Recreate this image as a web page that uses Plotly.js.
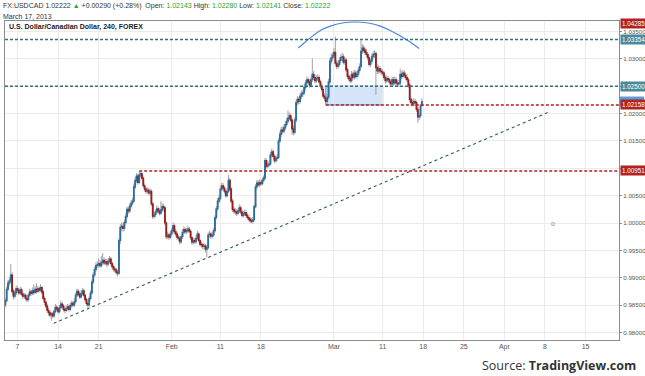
<!DOCTYPE html>
<html>
<head>
<meta charset="utf-8">
<script src="https://cdn.plot.ly/plotly-3.0.1.min.js"></script>
<style>html,body{margin:0;padding:0;background:#fff;}#chart{width:645px;height:376px;}</style>
</head>
<body>
<div id="chart"></div>
<script>
// ---- 240-minute USD/CAD bars, Jan 3 12:00 .. Mar 15 20:00 (2013) ----
const firstOpen = 0.9850;
const closes = [
  0.9858,0.9879,0.9890,
  0.9894,0.9905,0.9875,0.9866,0.9872,0.9880,
  0.9877,0.9872,0.9878,0.9870,0.9866,0.9868,
  0.9862,0.9860,0.9868,0.9874,0.9871,0.9876,
  0.9873,0.9879,0.9875,0.9880,0.9877,0.9882,
  0.9874,0.9862,0.9855,0.9848,0.9840,0.9836,
  0.9832,0.9834,0.9830,0.9838,0.9846,0.9843,
  0.9838,0.9845,0.9852,0.9848,0.9842,0.9840,
  0.9844,0.9847,0.9842,0.9849,0.9853,0.9850,
  0.9856,0.9868,0.9875,0.9870,0.9865,0.9871,
  0.9876,0.9868,0.9860,0.9853,0.9850,0.9862,
  0.9872,0.9892,0.9905,0.9915,0.9922,0.9924,
  0.9926,0.9922,0.9928,0.9932,0.9927,0.9929,
  0.9925,0.9930,0.9934,0.9926,0.9920,0.9916,
  0.9914,0.9910,0.9908,0.9968,0.9992,0.9994,
  0.9990,1.0001,1.0012,1.0025,1.0022,1.0031,
  1.0036,1.0040,1.0066,1.0078,1.0086,1.0074,
  1.0088,1.0090,1.0082,1.0068,1.0062,1.0058,
  1.0060,1.0055,1.0058,1.0035,1.0012,1.0015,
  1.0020,1.0026,1.0022,1.0018,1.0024,1.0030,
  1.0028,1.0000,0.9975,0.9978,0.9974,0.9980,
  0.9986,0.9995,0.9984,0.9980,0.9974,0.9972,
  0.9966,0.9975,0.9983,0.9988,0.9984,0.9986,
  0.9989,0.9985,0.9973,0.9965,0.9968,0.9966,
  0.9972,0.9980,0.9968,0.9961,0.9960,0.9957,
  0.9958,0.9952,0.9955,0.9978,0.9980,0.9976,
  0.9978,0.9986,1.0010,1.0026,1.0040,1.0045,
  1.0062,1.0068,1.0064,1.0058,1.0050,1.0058,
  1.0078,1.0062,1.0040,1.0025,1.0022,1.0020,
  1.0018,1.0022,1.0028,1.0020,1.0014,1.0017,
  1.0019,1.0014,1.0010,1.0007,1.0004,1.0003,
  1.0006,1.0030,1.0066,1.0073,1.0070,1.0074,
  1.0072,1.0078,1.0082,1.0114,1.0104,1.0106,
  1.0108,1.0124,1.0130,1.0122,1.0114,1.0118,
  1.0120,1.0150,1.0162,1.0170,1.0168,1.0174,
  1.0180,1.0186,1.0192,1.0196,1.0188,1.0172,
  1.0166,1.0188,1.0220,1.0226,1.0222,1.0232,
  1.0236,1.0238,1.0248,1.0256,1.0262,1.0258,
  1.0252,1.0262,1.0272,1.0266,1.0260,1.0264,
  1.0266,1.0258,1.0250,1.0244,1.0232,1.0228,
  1.0222,1.0230,1.0258,1.0296,1.0302,1.0306,
  1.0312,1.0292,1.0286,1.0290,1.0297,1.0302,
  1.0304,1.0294,1.0298,1.0280,1.0268,1.0264,
  1.0260,1.0272,1.0266,1.0274,1.0268,1.0272,
  1.0279,1.0286,1.0314,1.0320,1.0316,1.0312,
  1.0308,1.0302,1.0290,1.0296,1.0304,1.0308,
  1.0310,1.0284,1.0278,1.0282,1.0278,1.0276,
  1.0274,1.0266,1.0260,1.0264,1.0262,1.0258,
  1.0254,1.0262,1.0256,1.0262,1.0256,1.0254,
  1.0256,1.0272,1.0268,1.0274,1.0270,1.0266,
  1.0262,1.0252,1.0226,1.0220,1.0218,1.0222,
  1.0220,1.0208,1.0194,1.0196,1.02143,1.02222
];
const highs = [
  0.9862,0.9884,0.9896,
  0.9900,0.9925,0.9910,0.9880,0.9878,0.9886,
  0.9884,0.9881,0.9883,0.9882,0.9874,0.9872,
  0.9871,0.9866,0.9872,0.9880,0.9878,0.9882,
  0.9888,0.9884,0.9890,0.9885,0.9884,0.9888,
  0.9885,0.9877,0.9866,0.9858,0.9852,0.9845,
  0.9840,0.9838,0.9837,0.9842,0.9852,0.9850,
  0.9847,0.9850,0.9858,0.9856,0.9852,0.9846,
  0.9849,0.9852,0.9851,0.9854,0.9858,0.9857,
  0.9862,0.9873,0.9880,0.9879,0.9874,0.9877,
  0.9881,0.9880,0.9871,0.9864,0.9857,0.9866,
  0.9877,0.9897,0.9910,0.9920,0.9928,0.9930,
  0.9935,0.9932,0.9940,0.9945,0.9937,0.9935,
  0.9934,0.9936,0.9940,0.9938,0.9930,0.9924,
  0.9921,0.9918,0.9915,0.9972,0.9998,1.0001,
  0.9999,1.0006,1.0018,1.0030,1.0030,1.0036,
  1.0042,1.0046,1.0072,1.0084,1.0091,1.0090,
  1.00951,1.0094,1.0093,1.0085,1.0072,1.0066,
  1.0065,1.0064,1.0063,1.0061,1.0038,1.0020,
  1.0025,1.0032,1.0030,1.0027,1.0040,1.0036,
  1.0035,1.0031,1.0003,0.9984,0.9982,0.9985,
  0.9991,1.0001,0.9999,0.9989,0.9984,0.9978,
  0.9976,0.9980,0.9989,0.9994,0.9992,0.9991,
  0.9995,0.9993,0.9988,0.9976,0.9973,0.9972,
  0.9977,0.9986,0.9983,0.9971,0.9966,0.9964,
  0.9963,0.9962,0.9960,0.9983,0.9986,0.9984,
  0.9983,0.9991,1.0015,1.0031,1.0046,1.0051,
  1.0068,1.0074,1.0073,1.0068,1.0062,1.0064,
  1.0088,1.0082,1.0066,1.0044,1.0030,1.0027,
  1.0025,1.0027,1.0034,1.0032,1.0024,1.0022,
  1.0025,1.0023,1.0018,1.0014,1.0011,1.0009,
  1.0011,1.0035,1.0071,1.0079,1.0078,1.0080,
  1.0078,1.0083,1.0087,1.0119,1.0118,1.0112,
  1.0114,1.0130,1.0136,1.0134,1.0126,1.0123,
  1.0126,1.0155,1.0168,1.0176,1.0176,1.0180,
  1.0186,1.0192,1.0206,1.0202,1.0200,1.0192,
  1.0178,1.0193,1.0226,1.0232,1.0231,1.0238,
  1.0242,1.0244,1.0254,1.0262,1.0268,1.0266,
  1.0263,1.0268,1.0301,1.0278,1.0271,1.0270,
  1.0272,1.0270,1.0262,1.0254,1.0248,1.0237,
  1.0232,1.0236,1.0264,1.0302,1.0310,1.0312,
  1.0320,1.0341,1.0298,1.0296,1.0303,1.0308,
  1.0311,1.0309,1.0304,1.0302,1.0284,1.0273,
  1.0269,1.0278,1.0277,1.0280,1.0279,1.0278,
  1.0285,1.0292,1.0334,1.0327,1.0325,1.0321,
  1.0318,1.0313,1.0306,1.0301,1.0310,1.0314,
  1.0316,1.0314,1.0290,1.0288,1.0287,1.0283,
  1.0281,1.0278,1.0270,1.0270,1.0269,1.0266,
  1.0263,1.0268,1.0267,1.0268,1.0266,1.0261,
  1.0262,1.0282,1.0278,1.0280,1.0279,1.0275,
  1.0272,1.0266,1.0256,1.0230,1.0226,1.0228,
  1.0227,1.0224,1.0212,1.0201,1.0218,1.0228
];
const lows = [
  0.9846,0.9855,0.9875,
  0.9885,0.9890,0.9870,0.9860,0.9862,0.9868,
  0.9872,0.9868,0.9869,0.9866,0.9861,0.9862,
  0.9858,0.9855,0.9857,0.9865,0.9867,0.9868,
  0.9869,0.9870,0.9871,0.9872,0.9873,0.9874,
  0.9870,0.9858,0.9850,0.9844,0.9836,0.9830,
  0.9827,0.9821,0.9826,0.9827,0.9835,0.9839,
  0.9834,0.9835,0.9842,0.9844,0.9838,0.9835,
  0.9837,0.9840,0.9838,0.9839,0.9846,0.9846,
  0.9847,0.9853,0.9864,0.9866,0.9861,0.9862,
  0.9867,0.9864,0.9856,0.9849,0.9845,0.9847,
  0.9858,0.9869,0.9888,0.9901,0.9911,0.9918,
  0.9919,0.9918,0.9919,0.9924,0.9923,0.9923,
  0.9920,0.9921,0.9926,0.9922,0.9915,0.9911,
  0.9909,0.9905,0.9902,0.9905,0.9962,0.9986,
  0.9984,0.9986,0.9997,1.0008,1.0017,1.0018,
  1.0027,1.0032,1.0037,1.0062,1.0073,1.0070,
  1.0071,1.0083,1.0078,1.0064,1.0057,1.0053,
  1.0054,1.0051,1.0050,1.0031,1.0007,1.0008,
  1.0011,1.0016,1.0018,1.0014,1.0015,1.0020,
  1.0022,0.9996,0.9970,0.9971,0.9969,0.9971,
  0.9976,0.9982,0.9979,0.9975,0.9969,0.9967,
  0.9961,0.9962,0.9971,0.9979,0.9980,0.9980,
  0.9982,0.9981,0.9969,0.9960,0.9961,0.9962,
  0.9962,0.9969,0.9964,0.9957,0.9955,0.9952,
  0.9952,0.9946,0.9937,0.9952,0.9973,0.9971,
  0.9972,0.9974,0.9983,1.0006,1.0022,1.0036,
  1.0041,1.0058,1.0060,1.0054,1.0046,1.0047,
  1.0055,1.0058,1.0035,1.0020,1.0017,1.0015,
  1.0013,1.0014,1.0018,1.0016,1.0010,1.0010,
  1.0013,1.0010,1.0006,1.0003,1.0000,0.9999,
  0.9999,1.0003,1.0027,1.0061,1.0066,1.0066,
  1.0068,1.0069,1.0074,1.0079,1.0100,1.0100,
  1.0102,1.0105,1.0120,1.0118,1.0110,1.0110,
  1.0113,1.0117,1.0146,1.0157,1.0163,1.0164,
  1.0170,1.0176,1.0182,1.0188,1.0184,1.0161,
  1.0160,1.0162,1.0184,1.0215,1.0217,1.0218,
  1.0227,1.0230,1.0234,1.0243,1.0251,1.0253,
  1.0247,1.0248,1.0258,1.0261,1.0255,1.0256,
  1.0259,1.0254,1.0246,1.0239,1.0228,1.0223,
  1.02158,1.0218,1.0226,1.0254,1.0290,1.0297,
  1.0300,1.0288,1.0281,1.0282,1.0286,1.0292,
  1.0297,1.0290,1.0289,1.0276,1.0263,1.0259,
  1.0255,1.0257,1.0262,1.0262,1.0264,1.0264,
  1.0268,1.0275,1.0283,1.0309,1.0311,1.0307,
  1.0303,1.0297,1.0286,1.0285,1.0292,1.0300,
  1.0302,1.0234,1.0272,1.0273,1.0273,1.0270,
  1.0269,1.0261,1.0255,1.0256,1.0257,1.0253,
  1.0249,1.0250,1.0251,1.0252,1.0251,1.0249,
  1.0249,1.0252,1.0263,1.0264,1.0265,1.0261,
  1.0257,1.0247,1.0221,1.0215,1.0213,1.0214,
  1.0214,1.0203,1.0183,1.0188,1.0192,1.02141
];

// axis ticks
const tickDates = ["2013-01-07","2013-01-14","2013-01-21","2013-02-01","2013-02-11","2013-02-18",
                   "2013-03-01","2013-03-11","2013-03-18","2013-03-25","2013-04-01","2013-04-08","2013-04-15"];
const tickLabels = ["7","14","21","Feb","11","18","Mar","11","18","25","Apr","8","15"];
const priceTicks = [0.980,0.985,0.990,0.995,1.000,1.005,1.010,1.015,1.020,1.025,1.030,1.035];
const priceTickLabels = ["0.98000","0.98500","0.99000","0.99500","1.00000","1.00500","","1.01500","1.02000","","1.03000","1.03500"];
const xRange = ["2013-01-03 11:00","2013-04-19 03:00"];
const yRange = [0.97861, 1.03693];

// drawn levels
const supportLevels = [1.03354, 1.02500];                 // teal dashed, full width
const resistLevels = [1.02158, 1.00951];                  // red dashed, start dates
const resistStarts = ["2013-02-28 00:00", "2013-01-28 00:00"];
const lastPrice = 1.02222;
const boxTimes = ["2013-02-28 00:00", "2013-03-11 00:00"];
const boxPrices = [1.02158, 1.02500];
const trendTimes = ["2013-01-11 11:00", "2013-04-08 12:00"];
const trendPrices = [0.98166, 1.02029];
const arcTimes = ["2013-02-22 14:24","2013-02-25 11:12","2013-02-26 10:48","2013-02-27 07:36","2013-02-28 13:12",
                  "2013-03-04 00:24","2013-03-05 14:48","2013-03-07 05:12","2013-03-08 16:48","2013-03-11 22:24",
                  "2013-03-13 04:00","2013-03-14 09:36","2013-03-15 12:00"];
const arcPrices = [1.0320,1.0331,1.0343,1.0352,1.0360,1.03656,1.03675,1.03656,1.0360,1.0352,1.0342,1.0331,1.0319];

// build bar timestamps (4h bars, weekdays only)
function fmt(ms){ return new Date(ms).toISOString().slice(0,16).replace('T',' '); }
const dates = [];
for (let t = Date.UTC(2013,0,3,12); t <= Date.UTC(2013,2,15,20); t += 4*3600*1000) {
  const wd = new Date(t).getUTCDay();
  if (wd !== 0 && wd !== 6) dates.push(fmt(t));
}
const opens = closes.map((c,i) => i === 0 ? firstOpen : closes[i-1]);
const bodyHi = opens.map((o,i) => Math.max(o, closes[i]));
const bodyLo = opens.map((o,i) => Math.min(o, closes[i]));

const FONT = "Liberation Sans, Arial, sans-serif";
const UP = "#2b6f9c", DOWN = "#9e1c1c", WICK = "#a3a3a3";
const TEAL = "#2f6f7e", RED = "#b0231f";

const traces = [
  {type:'candlestick', x:dates, open:opens, high:highs, low:lows, close:closes,
   increasing:{line:{color:WICK,width:1}, fillcolor:WICK},
   decreasing:{line:{color:WICK,width:1}, fillcolor:WICK},
   whiskerwidth:0, hoverinfo:'skip', showlegend:false},
  {type:'candlestick', x:dates, open:opens, high:bodyHi, low:bodyLo, close:closes,
   increasing:{line:{color:UP,width:1.1}, fillcolor:UP},
   decreasing:{line:{color:DOWN,width:1.1}, fillcolor:DOWN},
   whiskerwidth:0, hoverinfo:'skip', showlegend:false},
  {type:'scatter', mode:'lines', x:arcTimes, y:arcPrices,
   line:{color:'#4a86e0', width:1.2, shape:'spline'}, hoverinfo:'skip', showlegend:false}
];

const shapes = [];
shapes.push({type:'rect', xref:'x', yref:'y', x0:boxTimes[0], x1:boxTimes[1], y0:boxPrices[0], y1:boxPrices[1],
  fillcolor:'rgba(120,165,235,0.30)', line:{color:'#4a86e0', width:1}, layer:'below'});
supportLevels.forEach(v => shapes.push({type:'line', xref:'paper', x0:0, x1:1, yref:'y', y0:v, y1:v,
  line:{color:TEAL, width:1.4, dash:'3px,2px'}}));
resistLevels.forEach((v,k) => shapes.push({type:'line', xref:'x', x0:resistStarts[k], x1:xRange[1], yref:'y', y0:v, y1:v,
  line:{color:RED, width:1.4, dash:'3px,2px'}}));
shapes.push({type:'line', xref:'x', yref:'y', x0:trendTimes[0], x1:trendTimes[1], y0:trendPrices[0], y1:trendPrices[1],
  line:{color:'#2c5a6a', width:1.1, dash:'dot'}});
// last-price tag peeking out behind the 1.02158 tag
shapes.push({type:'rect', xref:'paper', yref:'y', x0:1.0015, x1:1.041, y0:lastPrice - 0.0009, y1:lastPrice + 0.0009,
  fillcolor:'#5d9ad8', line:{width:0}, layer:'above'});

function priceTag(y, text, bg, yref){
  const a = {xref:'paper', x:1, xanchor:'left', xshift:1, yref: yref || 'y', y:y, text:text, showarrow:false,
    bgcolor:bg, borderpad:1, font:{family:FONT, size:6.3, color:'#ffffff'}};
  if (yref === 'paper') { a.yanchor = 'top'; a.yshift = 3; }
  return a;
}
const G = "#2ea02e";
const headerText = "FX:USDCAD 1.02222 <span style='color:"+G+"'>▲</span> +0.00290 (+0.28%)  Open: <span style='color:"+G+"'>1.02143</span> High: <span style='color:"+G+"'>1.02280</span> Low: <span style='color:"+G+"'>1.02141</span> Close: <span style='color:"+G+"'>1.02222</span>";

const annotations = [
  priceTag(1, "1.04285", RED, 'paper'),
  priceTag(supportLevels[0], "1.03354", "#4b8a9c"),
  priceTag(supportLevels[1], "1.02500", "#4b8a9c"),
  priceTag(resistLevels[0], "1.02158", RED),
  priceTag(resistLevels[1], "1.00951", RED),
  {xref:'paper', yref:'paper', x:-0.0065, y:1.047, xanchor:'left', yanchor:'middle', showarrow:false,
   text:headerText, font:{family:FONT, size:7, color:'#333'}},
  {xref:'paper', yref:'paper', x:-0.0065, y:1.0141, xanchor:'left', yanchor:'middle', showarrow:false,
   text:"March 17, 2013", font:{family:FONT, size:7, color:'#333'}},
  {xref:'paper', yref:'paper', x:0.0033, y:0.981, xanchor:'left', yanchor:'middle', showarrow:false,
   text:"<b>U.S. Dollar/Canadian Dollar, 240, FOREX</b>", font:{family:FONT, size:7, color:'#222'}},
  {xref:'x', yref:'y', x:"2013-04-09 00:00", y:1.0000, showarrow:false, text:"o",
   font:{family:FONT, size:7, color:'#888'}},
  {xref:'paper', yref:'paper', x:1.031, y:-0.0815, xanchor:'right', yanchor:'middle', showarrow:false,
   text:"Source: <b>TradingView.com</b>", font:{family:"Open Sans, sans-serif", size:12.5, color:'#333'}}
];

const layout = {
  width:645, height:376,
  margin:{l:5, r:26, t:21, b:36, pad:0},
  paper_bgcolor:'#ffffff', plot_bgcolor:'#ffffff',
  showlegend:false, dragmode:false,
  xaxis:{type:'date', range:xRange, rangebreaks:[{bounds:['sat','mon']}],
    tickmode:'array', tickvals:tickDates, ticktext:tickLabels,
    tickfont:{family:FONT, size:7, color:'#555'}, ticks:'',
    showgrid:true, gridcolor:'#ebebeb', gridwidth:1,
    showline:true, linecolor:'#8c8c8c', linewidth:1, mirror:true,
    rangeslider:{visible:false}, fixedrange:true},
  yaxis:{side:'right', range:yRange, tickmode:'array', tickvals:priceTicks, ticktext:priceTickLabels,
    tickfont:{family:FONT, size:6.2, color:'#555'}, ticks:'outside', ticklen:2, tickcolor:'#8c8c8c',
    showgrid:true, gridcolor:'#ebebeb', zeroline:false,
    showline:true, linecolor:'#8c8c8c', linewidth:1, mirror:true, fixedrange:true},
  shapes:shapes, annotations:annotations
};

Plotly.newPlot('chart', traces, layout, {displayModeBar:false, staticPlot:true});
</script>
</body>
</html>
